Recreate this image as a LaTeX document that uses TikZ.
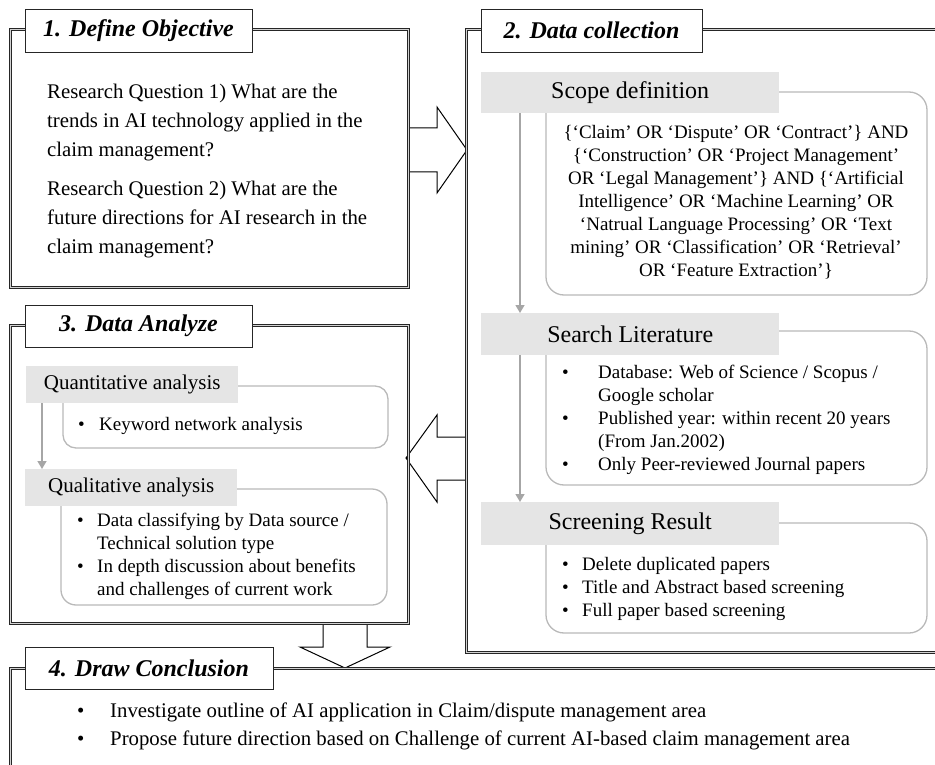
\documentclass[tikz,border=0pt]{standalone}
\usepackage{fontspec}
\setmainfont{Liberation Serif}
\usetikzlibrary{arrows.meta,positioning}
\newcommand{\bulletbox}[1]{\makebox[#1][l]{\textbullet}}

\begin{document}
\begin{tikzpicture}[x=1pt,y=-1pt]
	\tikzset{panel/.style = {draw=black!85, double=gray!35, double distance=1.6pt, line width=0.9pt, inner sep=0pt, anchor=north west}}
	\tikzset{title/.style = {draw=black!85, fill=white, line width=0.9pt, inner sep=0pt, font=\fontsize{24}{28}\selectfont\bfseries\itshape}}
	\tikzset{header/.style = {fill=gray!20, inner sep=0pt, anchor=north west}}
	\tikzset{rbox/.style = {draw=gray!55, line width=1.3pt}}
	\tikzset{flow/.style = {draw=gray!70, line width=1.4pt, -{Triangle[width=9pt,length=8pt]}}}
	\tikzset{blockarrow/.style = {draw=black, line width=1pt, line join=miter}}
	\tikzset{txt/.style = {inner sep=0pt, anchor=base west, align=left}}

	\useasboundingbox (0,0) rectangle (935,765);

	% block arrows between the stages
	\draw[blockarrow] (408,128) -- (437,128) -- (437,107) -- (467,150) -- (437,193) -- (437,172) -- (408,172);
	\draw[blockarrow] (467,437) -- (437,437) -- (437,415) -- (406,458) -- (437,502) -- (437,480) -- (467,480);
	\draw[blockarrow] (323,624) -- (323,647) -- (300,647) -- (345,668) -- (390,647) -- (367,647) -- (367,624);

	% stage frames
	\node[panel, minimum width=398pt, minimum height=258pt] (objective) at (10,29) {};
	\node[panel, minimum width=490pt, minimum height=623pt] (collection) at (466,29) {};
	\node[panel, minimum width=398pt, minimum height=298pt] (analyze) at (10,325) {};
	\node[panel, minimum width=950pt, minimum height=110pt] (conclusion) at (10,668) {};

	\node[title, minimum width=227pt, minimum height=43pt] (objective_t) at (138.5,30.5) {1. Define Objective};
	\node[title, minimum width=221pt, minimum height=43pt] (collection_t) at (591.5,30.5) {2. Data collection};
	\node[title, minimum width=227pt, minimum height=42pt] (analyze_t) at (138.5,326) {3. Data Analyze};
	\node[title, minimum width=248pt, minimum height=42pt] (conclusion_t) at (149,668) {4. Draw Conclusion};

	% 1. objective (base = last line)
	\node[txt, font=\fontsize{20.8}{29}\selectfont] (rq) at (47,253)
		{Research Question 1) What are the\\ trends in AI technology applied in the\\ claim management?\\[10pt]
		 Research Question 2) What are the\\ future directions for AI research in the\\ claim management?};

	% 2. data collection
	\draw[rbox, rounded corners=18pt] (546,92) rectangle (927,295);
	\draw[rbox, rounded corners=18pt] (546,331) rectangle (927,485);
	\draw[rbox, rounded corners=18pt] (546,523) rectangle (927,633);

	\node[header, minimum width=298pt, minimum height=41pt, font=\fontsize{24}{28}\selectfont] (scope_hd) at (481,72) {Scope definition};
	\node[header, minimum width=298pt, minimum height=42pt, font=\fontsize{24}{28}\selectfont] (search_hd) at (481,313) {Search Literature};
	\node[header, minimum width=298pt, minimum height=43pt, font=\fontsize{24}{28}\selectfont] (screen_hd) at (481,502) {Screening Result};

	\node[inner sep=0pt, anchor=base, align=center, font=\fontsize{19}{23}\selectfont] (scope_txt) at (736,276)
		{\{‘Claim’ OR ‘Dispute’ OR ‘Contract’\} AND\\ \{‘Construction’ OR ‘Project Management’\\
		 OR ‘Legal Management’\} AND \{‘Artificial\\ Intelligence’ OR ‘Machine Learning’ OR\\
		 ‘Natrual Language Processing’ OR ‘Text\\ mining’ OR ‘Classification’ OR ‘Retrieval’\\ OR ‘Feature Extraction’\}};
	\node[txt, font=\fontsize{19}{23}\selectfont] (search_txt) at (562,470)
		{\bulletbox{36pt}Database: Web of Science / Scopus /\\ \hspace*{36pt}Google scholar\\
		 \bulletbox{36pt}Published year: within recent 20 years\\ \hspace*{36pt}(From Jan.2002)\\
		 \bulletbox{36pt}Only Peer-reviewed Journal papers};
	\node[txt, font=\fontsize{19}{23}\selectfont] (screen_txt) at (562,616)
		{\bulletbox{20pt}Delete duplicated papers\\ \bulletbox{20pt}Title and Abstract based screening\\
		 \bulletbox{20pt}Full paper based screening};

	\draw[flow] ([xshift=39pt]scope_hd.south west) -- ([xshift=39pt]search_hd.north west);
	\draw[flow] ([xshift=39pt]search_hd.south west) -- ([xshift=39pt]screen_hd.north west);

	% 3. data analyze
	\draw[rbox, rounded corners=13pt] (63,386) rectangle (388,448);
	\draw[rbox, rounded corners=15pt] (61,489) rectangle (387,605);

	\node[header, minimum width=212pt, minimum height=37pt, font=\fontsize{21}{25}\selectfont] (quant_hd) at (26,366) {Quantitative analysis};
	\node[header, minimum width=212pt, minimum height=37pt, font=\fontsize{21}{25}\selectfont] (qual_hd) at (25,469) {Qualitative analysis};

	\node[txt, font=\fontsize{19}{23}\selectfont] (quant_txt) at (78,430)
		{\bulletbox{21pt}Keyword network analysis};
	\node[txt, font=\fontsize{19}{23}\selectfont] (qual_txt) at (77,595)
		{\bulletbox{20pt}Data classifying by Data source /\\ \hspace*{20pt}Technical solution type\\
		 \bulletbox{20pt}In depth discussion about benefits\\ \hspace*{20pt}and challenges of current work};

	\draw[flow] ([xshift=16pt]quant_hd.south west) -- ([xshift=17pt]qual_hd.north west);

	% 4. conclusion
	\node[txt, font=\fontsize{20.8}{28}\selectfont] (concl_txt) at (77,745)
		{\bulletbox{33pt}Investigate outline of AI application in Claim/dispute management area\\
		 \bulletbox{33pt}Propose future direction based on Challenge of current AI-based claim management area};
\end{tikzpicture}
\end{document}
